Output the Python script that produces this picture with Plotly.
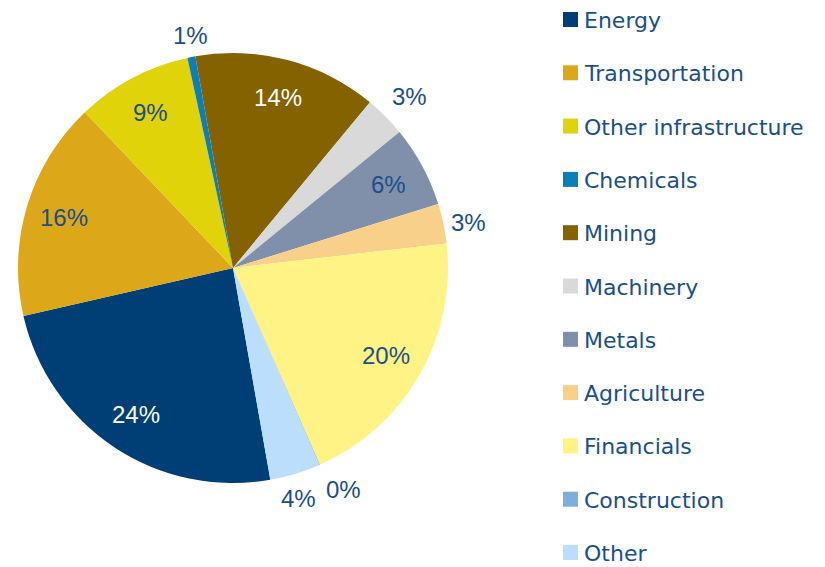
import math
import plotly.graph_objects as go

labels = ["Energy", "Transportation", "Other infrastructure", "Chemicals", "Mining",
          "Machinery", "Metals", "Agriculture", "Financials", "Construction", "Other"]
values = [24.2, 16.5, 8.7, 0.6, 13.8, 3.1, 6.1, 3.0, 20.2, 0.05, 3.8]
colors = ["#003F75", "#DCA81A", "#E1D30A", "#0A7FBA", "#856200",
          "#D9D9D9", "#8090AA", "#F9D08A", "#FFF385", "#7FAEDA", "#BADEFB"]
label_inside = [True, True, True, False, True, False, True, False, True, False, False]
label_colors = ["#FFFFFF", "#1A4F8A", "#1A4F8A", "#1A4F8A", "#FFFFFF",
                "#1A4F8A", "#1A4F8A", "#1A4F8A", "#1A4F8A", "#1A4F8A", "#1A4F8A"]

TXT = "#1A4F8A"
LBL_FONT = "Liberation Sans, Arial, sans-serif"
LEG_FONT = "DejaVu Sans, sans-serif"

# page is shown with an 8px body margin; lay out in page pixels and convert
OFF = 8
W, H = 825 - OFF, 567 - OFF
CX, CY, R = 233 - OFF, 268 - OFF, 215
ROTATION = 170


def px(x):
    return x / W


def py(y):
    return 1 - y / H


fig = go.Figure()
fig.add_trace(go.Pie(
    labels=labels, values=values, sort=False, direction="clockwise", rotation=ROTATION,
    marker=dict(colors=colors, line=dict(width=0)),
    textinfo="none", showlegend=False, hoverinfo="label+percent",
    domain=dict(x=[px(CX - R), px(CX + R)], y=[py(CY + R), py(CY - R)]),
))

# percentage labels placed from each slice's mid-angle
total = sum(values)
ang = ROTATION
annotations = []
for v, inside, col in zip(values, label_inside, label_colors):
    span = v / total * 360
    mid = math.radians(ang + span / 2)
    ang += span
    s, c = math.sin(mid), math.cos(mid)
    if inside:
        d = 0.82 * R
        xa, ya = "center", "middle"
    else:
        d = R + 6 + 4 * max(0.0, -c)
        xa = "left" if s > 0.35 else ("right" if s < -0.35 else "center")
        ya = "bottom" if c > 0.35 else ("top" if c < -0.35 else "middle")
    annotations.append(dict(
        x=px(CX + d * s), y=py(CY - d * c), xref="paper", yref="paper",
        text=f"{round(v / total * 100)}%", showarrow=False,
        xanchor=xa, yanchor=ya,
        font=dict(family=LBL_FONT, size=24, color=col),
    ))

# legend drawn as squares + text
shapes = []
LX0, LY0, STEP, SQ = 563 - OFF, 19.5 - OFF, 53.3, 15
for i, (lab, col) in enumerate(zip(labels, colors)):
    yc = LY0 + i * STEP
    shapes.append(dict(
        type="rect", xref="paper", yref="paper",
        x0=px(LX0), x1=px(LX0 + SQ), y0=py(yc + SQ / 2), y1=py(yc - SQ / 2),
        fillcolor=col, line=dict(width=0),
    ))
    annotations.append(dict(
        x=px(LX0 + SQ + 4), y=py(yc + 1), xref="paper", yref="paper",
        text=lab, showarrow=False, xanchor="left", yanchor="middle",
        font=dict(family=LEG_FONT, size=22, color=TXT),
    ))

fig.update_layout(
    width=W, height=H, margin=dict(l=0, r=0, t=0, b=0),
    paper_bgcolor="white", plot_bgcolor="white",
    showlegend=False, shapes=shapes, annotations=annotations,
)

fig.write_html("out.html")
